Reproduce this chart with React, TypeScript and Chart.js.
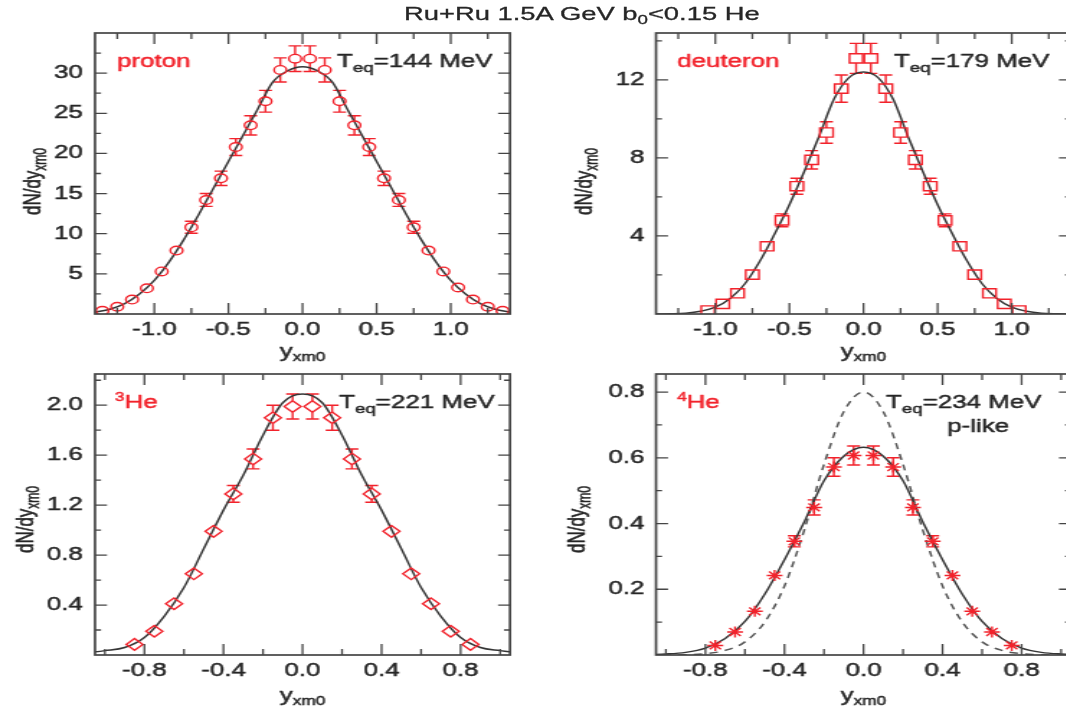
import React, { useEffect, useRef } from 'react';
import { Chart, registerables } from 'chart.js';

Chart.register(...registerables);

// The reference figure is horizontally stretched; draw at 1/S width and stretch.
const S = 1.44;
const FONT = '"Liberation Sans", Arial, Helvetica, sans-serif';
const RED = '#f2222b';
const INK = '#262626';
const FRAME = '#454545';
const CURVE = '#353535';
const CAP = 4.5;
const STROKE = 0.45;

// ---------------- proton ----------------
const protonX = [-1.35, -1.25, -1.15, -1.05, -0.95, -0.85, -0.75, -0.65, -0.55, -0.45, -0.35, -0.25, -0.15, -0.05, 0.05, 0.15, 0.25, 0.35, 0.45, 0.55, 0.65, 0.75, 0.85, 0.95, 1.05, 1.15, 1.25, 1.35];
const protonY = [0.4, 0.9, 1.8, 3.2, 5.3, 7.9, 10.8, 14.2, 16.9, 20.8, 23.5, 26.5, 30.4, 31.8, 31.8, 30.4, 26.5, 23.5, 20.8, 16.9, 14.2, 10.8, 7.9, 5.3, 3.3, 1.8, 0.9, 0.4];
const protonErr = [0.08, 0.1, 0.15, 0.2, 0.25, 0.3, 0.75, 0.8, 0.9, 1.05, 1.2, 1.35, 1.5, 1.6, 1.6, 1.5, 1.35, 1.2, 1.05, 0.9, 0.8, 0.75, 0.3, 0.25, 0.2, 0.15, 0.1, 0.08];
const protonFitX = [-1.4, -1.3, -1.2, -1.1, -1.0, -0.9, -0.8, -0.7, -0.6, -0.5, -0.4, -0.3, -0.2, -0.1, 0, 0.1, 0.2, 0.3, 0.4, 0.5, 0.6, 0.7, 0.8, 0.9, 1.0, 1.1, 1.2, 1.3, 1.4];
const protonFitY = [0.25, 0.6, 1.3, 2.5, 4.2, 6.5, 9.3, 12.4, 15.7, 19.0, 22.3, 25.6, 28.9, 30.3, 30.8, 30.3, 28.9, 25.6, 22.3, 19.0, 15.7, 12.4, 9.3, 6.5, 4.2, 2.5, 1.3, 0.6, 0.25];
const protonXMajor = [-1.0, -0.5, 0, 0.5, 1.0];
const protonXMinor = [-1.25, -0.75, -0.25, 0.25, 0.75, 1.25];
const protonYMajor = [5, 10, 15, 20, 25, 30];
const protonYMinor = [2.5, 7.5, 12.5, 17.5, 22.5, 27.5, 32.5];

// ---------------- deuteron ----------------
const deuteronX = [-1.05, -0.95, -0.85, -0.75, -0.65, -0.55, -0.45, -0.35, -0.25, -0.15, -0.05, 0.05, 0.15, 0.25, 0.35, 0.45, 0.55, 0.65, 0.75, 0.85, 0.95, 1.05];
const deuteronY = [0.18, 0.52, 1.06, 2.02, 3.47, 4.8, 6.55, 7.9, 9.3, 11.55, 13.1, 13.1, 11.55, 9.3, 7.9, 6.55, 4.8, 3.47, 2.02, 1.06, 0.52, 0.18];
const deuteronErr = [0.05, 0.06, 0.08, 0.1, 0.15, 0.33, 0.41, 0.47, 0.55, 0.7, 0.77, 0.77, 0.7, 0.55, 0.47, 0.41, 0.33, 0.15, 0.1, 0.08, 0.06, 0.05];
const deuteronFitX = [-1.4, -1.3, -1.2, -1.1, -1.0, -0.9, -0.8, -0.7, -0.6, -0.5, -0.4, -0.3, -0.2, -0.1, 0, 0.1, 0.2, 0.3, 0.4, 0.5, 0.6, 0.7, 0.8, 0.9, 1.0, 1.1, 1.2, 1.3, 1.4];
const deuteronFitY = [0, 0.01, 0.04, 0.14, 0.35, 0.8, 1.55, 2.7, 4.1, 5.6, 7.3, 9.1, 11.0, 12.1, 12.4, 12.1, 11.0, 9.1, 7.3, 5.6, 4.1, 2.7, 1.55, 0.8, 0.35, 0.14, 0.04, 0.01, 0];
const deuteronXMajor = [-1.0, -0.5, 0, 0.5, 1.0];
const deuteronXMinor = [-1.25, -0.75, -0.25, 0.25, 0.75, 1.25];
const deuteronYMajor = [4, 8, 12];
const deuteronYMinor = [2, 6, 10, 14];

// ---------------- 3He ----------------
const he3X = [-0.85, -0.75, -0.65, -0.55, -0.45, -0.35, -0.25, -0.15, -0.05, 0.05, 0.15, 0.25, 0.35, 0.45, 0.55, 0.65, 0.75, 0.85];
const he3Y = [0.085, 0.19, 0.41, 0.65, 0.99, 1.29, 1.57, 1.9, 1.99, 1.99, 1.9, 1.57, 1.29, 0.99, 0.65, 0.41, 0.19, 0.085];
const he3Err = [0.01, 0.015, 0.02, 0.025, 0.035, 0.067, 0.08, 0.1, 0.1, 0.1, 0.1, 0.08, 0.067, 0.035, 0.025, 0.02, 0.015, 0.01];
const he3FitX = [-1.1, -1.0, -0.9, -0.8, -0.7, -0.6, -0.5, -0.4, -0.3, -0.2, -0.1, 0, 0.1, 0.2, 0.3, 0.4, 0.5, 0.6, 0.7, 0.8, 0.9, 1.0, 1.1];
const he3FitY = [0.015, 0.035, 0.06, 0.14, 0.31, 0.54, 0.85, 1.16, 1.44, 1.76, 2.02, 2.09, 2.02, 1.76, 1.44, 1.16, 0.85, 0.54, 0.31, 0.14, 0.06, 0.035, 0.015];
const he3XMajor = [-0.8, -0.4, 0, 0.4, 0.8];
const he3XMinor = [-1.0, -0.6, -0.2, 0.2, 0.6, 1.0];
const he3YMajor = [0.4, 0.8, 1.2, 1.6, 2.0];
const he3YMinor = [0.2, 0.6, 1.0, 1.4, 1.8, 2.2];

// ---------------- 4He ----------------
const he4X = [-0.75, -0.65, -0.55, -0.45, -0.35, -0.25, -0.15, -0.05, 0.05, 0.15, 0.25, 0.35, 0.45, 0.55, 0.65, 0.75];
const he4Y = [0.029, 0.07, 0.133, 0.242, 0.346, 0.449, 0.572, 0.607, 0.607, 0.572, 0.449, 0.346, 0.242, 0.133, 0.07, 0.029];
const he4Err = [0.004, 0.006, 0.008, 0.012, 0.017, 0.023, 0.028, 0.029, 0.029, 0.028, 0.023, 0.017, 0.012, 0.008, 0.006, 0.004];
const he4FitX = [-1.1, -1.0, -0.9, -0.8, -0.7, -0.6, -0.5, -0.4, -0.3, -0.2, -0.1, 0, 0.1, 0.2, 0.3, 0.4, 0.5, 0.6, 0.7, 0.8, 0.9, 1.0, 1.1];
const he4FitY = [0.001, 0.003, 0.008, 0.021, 0.05, 0.102, 0.185, 0.29, 0.405, 0.53, 0.605, 0.632, 0.605, 0.53, 0.405, 0.29, 0.185, 0.102, 0.05, 0.021, 0.008, 0.003, 0.001];
const he4PlikeY = [0, 0, 0.001, 0.004, 0.014, 0.04, 0.1, 0.21, 0.38, 0.58, 0.74, 0.8, 0.74, 0.58, 0.38, 0.21, 0.1, 0.04, 0.014, 0.004, 0.001, 0, 0];
const he4XMajor = [-0.8, -0.4, 0, 0.4, 0.8];
const he4XMinor = [-1.0, -0.6, -0.2, 0.2, 0.6, 1.0];
const he4YMajor = [0.2, 0.4, 0.6, 0.8];
const he4YMinor = [0.1, 0.3, 0.5, 0.7];

type Part = { t: string; size: number; dy?: number };
type Note = { parts: Part[]; x: number; y: number; color: string; align: 'left' | 'center' };

const teq = (v: string): Part[] => [
  { t: 'T', size: 18 },
  { t: 'eq', size: 13, dy: 5 },
  { t: '=' + v + ' MeV', size: 18 },
];

function drawParts(ctx: CanvasRenderingContext2D, parts: Part[], x: number, y: number, color: string, align: 'left' | 'center') {
  ctx.save();
  ctx.fillStyle = color;
  ctx.strokeStyle = color;
  ctx.lineWidth = STROKE;
  ctx.lineJoin = 'round';
  ctx.textBaseline = 'alphabetic';
  ctx.textAlign = 'left';
  const widths = parts.map((p) => {
    ctx.font = `${p.size}px ${FONT}`;
    return ctx.measureText(p.t).width;
  });
  const total = widths.reduce((a, b) => a + b, 0);
  let cx = align === 'center' ? x - total / 2 : x;
  parts.forEach((p, i) => {
    ctx.font = `${p.size}px ${FONT}`;
    ctx.fillText(p.t, cx, y + (p.dy || 0));
    ctx.strokeText(p.t, cx, y + (p.dy || 0));
    cx += widths[i];
  });
  ctx.restore();
}

interface PanelSpec {
  col: number;
  row: number;
  frame: { l: number; r: number; t: number; b: number };
  xMin: number; xMax: number; yMin: number; yMax: number;
  xMajor: number[]; xMinor: number[]; yMajor: number[]; yMinor: number[];
  xDec: number; yDec: number;
  px: number[]; py: number[]; perr: number[];
  style: string; radius: number; gap: number; minBar: number;
  fitX: number[]; fitY: number[]; dashY?: number[];
  notes: Note[];
  yTitleX: number; yTitleDy: number; xTitleY: number;
  xPad: number; yPad: number;
}

const COLS = [{ left: 0, width: 370 }, { left: 370, width: 400 }];
const ROWS = [{ top: 0, height: 365 }, { top: 345, height: 370 }];

const panels: PanelSpec[] = [
  {
    col: 0, row: 0, frame: { l: 95, r: 510, t: 33, b: 314 },
    xMin: -1.4, xMax: 1.4, yMin: 0, yMax: 35,
    xMajor: protonXMajor, xMinor: protonXMinor, yMajor: protonYMajor, yMinor: protonYMinor, xDec: 1, yDec: 0,
    px: protonX, py: protonY, perr: protonErr, style: 'circle', radius: 4.3, gap: 4.3, minBar: 5,
    fitX: protonFitX, fitY: protonFitY,
    notes: [
      { parts: [{ t: 'proton', size: 18 }], x: 117, y: 67, color: RED, align: 'left' },
      { parts: teq('144'), x: 337, y: 67, color: INK, align: 'left' },
    ],
    yTitleX: 34.5, yTitleDy: 8, xTitleY: 357, xPad: 5.5, yPad: 8.5,
  },
  {
    col: 1, row: 0, frame: { l: 656, r: 1071, t: 33, b: 314 },
    xMin: -1.4, xMax: 1.4, yMin: 0, yMax: 14.4,
    xMajor: deuteronXMajor, xMinor: deuteronXMinor, yMajor: deuteronYMajor, yMinor: deuteronYMinor, xDec: 1, yDec: 0,
    px: deuteronX, py: deuteronY, perr: deuteronErr, style: 'rect', radius: 6.5, gap: 4.6, minBar: 5.8,
    fitX: deuteronFitX, fitY: deuteronFitY,
    notes: [
      { parts: [{ t: 'deuteron', size: 18 }], x: 677, y: 67, color: RED, align: 'left' },
      { parts: teq('179'), x: 894, y: 67, color: INK, align: 'left' },
    ],
    yTitleX: 585, yTitleDy: 8, xTitleY: 357, xPad: 5.5, yPad: 8,
  },
  {
    col: 0, row: 1, frame: { l: 95, r: 510, t: 374, b: 655 },
    xMin: -1.05, xMax: 1.05, yMin: 0, yMax: 2.25,
    xMajor: he3XMajor, xMinor: he3XMinor, yMajor: he3YMajor, yMinor: he3YMinor, xDec: 1, yDec: 1,
    px: he3X, py: he3Y, perr: he3Err, style: 'rectRot', radius: 5.8, gap: 5.8, minBar: 6.5,
    fitX: he3FitX, fitY: he3FitY,
    notes: [
      { parts: [{ t: '3', size: 12, dy: -7 }, { t: 'He', size: 18 }], x: 115, y: 408, color: RED, align: 'left' },
      { parts: teq('221'), x: 339, y: 408, color: INK, align: 'left' },
    ],
    yTitleX: 26, yTitleDy: 5, xTitleY: 701, xPad: 5.5, yPad: 8.5,
  },
  {
    col: 1, row: 1, frame: { l: 656, r: 1071, t: 374, b: 655 },
    xMin: -1.05, xMax: 1.05, yMin: 0, yMax: 0.855,
    xMajor: he4XMajor, xMinor: he4XMinor, yMajor: he4YMajor, yMinor: he4YMinor, xDec: 1, yDec: 1,
    px: he4X, py: he4Y, perr: he4Err, style: 'star', radius: 5.5, gap: 0, minBar: 5,
    fitX: he4FitX, fitY: he4FitY, dashY: he4PlikeY,
    notes: [
      { parts: [{ t: '4', size: 12, dy: -7 }, { t: 'He', size: 18 }], x: 677, y: 408, color: RED, align: 'left' },
      { parts: teq('234'), x: 886, y: 408, color: INK, align: 'left' },
      { parts: [{ t: 'p-like', size: 18 }], x: 978, y: 432, color: INK, align: 'center' },
    ],
    yTitleX: 578, yTitleDy: 5, xTitleY: 701, xPad: 5.5, yPad: 8,
  },
];

const near = (arr: number[], v: number) => arr.some((m) => Math.abs(m - v) < 1e-9);

function makeDecor(spec: PanelSpec, colLeft: number, rowTop: number) {
  const fx = (X: number) => X / S - colLeft;
  const fy = (Y: number) => Y - rowTop;
  return {
    id: 'decor',
    beforeDatasetsDraw(chart: any) {
      const { ctx } = chart;
      const xs = chart.scales.x;
      const ys = chart.scales.y;
      ctx.save();
      ctx.strokeStyle = RED;
      ctx.lineWidth = 1.4;
      spec.px.forEach((xv, i) => {
        const e = spec.perr[i];
        const cx = xs.getPixelForValue(xv);
        const cy = ys.getPixelForValue(spec.py[i]);
        const top = ys.getPixelForValue(spec.py[i] + e);
        const bot = ys.getPixelForValue(spec.py[i] - e);
        if (cy - top < spec.minBar) return;
        ctx.beginPath();
        ctx.moveTo(cx, top);
        ctx.lineTo(cx, cy - spec.gap);
        ctx.moveTo(cx, cy + spec.gap);
        ctx.lineTo(cx, bot);
        ctx.moveTo(cx - CAP, top);
        ctx.lineTo(cx + CAP, top);
        ctx.moveTo(cx - CAP, bot);
        ctx.lineTo(cx + CAP, bot);
        ctx.stroke();
      });
      ctx.restore();
    },
    afterDraw(chart: any) {
      const { ctx } = chart;
      const xs = chart.scales.x;
      const ys = chart.scales.y;
      const { left, right, top, bottom } = chart.chartArea;
      ctx.save();
      ctx.strokeStyle = FRAME;
      ctx.lineWidth = 1.7;
      ctx.strokeRect(left, top, right - left, bottom - top);
      ctx.lineWidth = 1.3;
      ctx.beginPath();
      const xt = (v: number, len: number) => {
        const p = xs.getPixelForValue(v);
        ctx.moveTo(p, bottom);
        ctx.lineTo(p, bottom - len);
        ctx.moveTo(p, top);
        ctx.lineTo(p, top + len);
      };
      const yt = (v: number, len: number) => {
        const p = ys.getPixelForValue(v);
        ctx.moveTo(left, p);
        ctx.lineTo(left + len / S, p);
        ctx.moveTo(right, p);
        ctx.lineTo(right - len / S, p);
      };
      spec.xMajor.forEach((v) => xt(v, 11));
      spec.xMinor.forEach((v) => xt(v, 6));
      spec.yMajor.forEach((v) => yt(v, 12));
      spec.yMinor.forEach((v) => yt(v, 6));
      ctx.stroke();
      ctx.restore();

      spec.notes.forEach((n) => drawParts(ctx, n.parts, fx(n.x), fy(n.y), n.color, n.align));

      drawParts(ctx, [{ t: 'y', size: 18 }, { t: 'xm0', size: 12, dy: 4 }], (left + right) / 2, fy(spec.xTitleY), INK, 'center');

      ctx.save();
      ctx.translate(fx(spec.yTitleX), (top + bottom) / 2 + spec.yTitleDy);
      ctx.rotate(-Math.PI / 2);
      drawParts(ctx, [{ t: 'dN/dy', size: 17 }, { t: 'xm0', size: 12, dy: 4 }], 0, 4.5, INK, 'center');
      ctx.restore();
    },
  };
}

function PanelChart({ spec }: { spec: PanelSpec }) {
  const ref = useRef<HTMLCanvasElement | null>(null);
  const col = COLS[spec.col];
  const row = ROWS[spec.row];
  useEffect(() => {
    if (!ref.current) return;
    const fl = spec.frame.l / S - col.left;
    const fr = spec.frame.r / S - col.left;
    const datasets: any[] = [
      {
        label: 'data',
        data: spec.px.map((x, i) => ({ x, y: spec.py[i] })),
        pointStyle: spec.style,
        pointRadius: spec.radius,
        borderColor: RED,
        backgroundColor: 'rgba(0,0,0,0)',
        pointBorderWidth: 1.4,
        borderWidth: 1.4,
        showLine: false,
      },
      {
        label: 'fit',
        data: spec.fitX.map((x, i) => ({ x, y: spec.fitY[i] })),
        showLine: true,
        pointRadius: 0,
        borderColor: CURVE,
        borderWidth: 1.5,
        cubicInterpolationMode: 'monotone',
        fill: false,
      },
    ];
    if (spec.dashY) {
      datasets.push({
        label: 'p-like',
        data: spec.fitX.map((x, i) => ({ x, y: spec.dashY![i] })),
        showLine: true,
        pointRadius: 0,
        borderColor: '#555555',
        borderWidth: 1.5,
        borderDash: [6, 5],
        cubicInterpolationMode: 'monotone',
        fill: false,
      });
    }
    const tickFont = { family: FONT, size: 18 };
    const chart = new Chart(ref.current, {
      type: 'scatter',
      data: { datasets },
      plugins: [makeDecor(spec, col.left, row.top)],
      options: {
        animation: false,
        responsive: true,
        maintainAspectRatio: false,
        events: [],
        layout: { padding: { left: 0, right: col.width - fr, top: spec.frame.t - row.top, bottom: 0 } },
        plugins: { legend: { display: false }, title: { display: false }, tooltip: { enabled: false } },
        scales: {
          x: {
            type: 'linear',
            min: spec.xMin,
            max: spec.xMax,
            grid: { display: false, drawTicks: false },
            border: { display: false },
            afterFit: (s: any) => { s.height = row.top + row.height - spec.frame.b; },
            afterBuildTicks: (s: any) => {
              s.ticks = [...spec.xMajor, ...spec.xMinor].sort((a, b) => a - b).map((v) => ({ value: v }));
            },
            ticks: {
              autoSkip: false,
              maxRotation: 0,
              minRotation: 0,
              padding: spec.xPad,
              color: INK,
              textStrokeColor: INK,
              textStrokeWidth: STROKE,
              font: tickFont,
              callback: (v: any) => (near(spec.xMajor, Number(v)) ? Number(v).toFixed(spec.xDec) : ''),
            },
          },
          y: {
            type: 'linear',
            min: spec.yMin,
            max: spec.yMax,
            grid: { display: false, drawTicks: false },
            border: { display: false },
            afterFit: (s: any) => { s.width = fl; },
            afterBuildTicks: (s: any) => {
              s.ticks = [...spec.yMajor, ...spec.yMinor].sort((a, b) => a - b).map((v) => ({ value: v }));
            },
            ticks: {
              autoSkip: false,
              padding: spec.yPad,
              color: INK,
              textStrokeColor: INK,
              textStrokeWidth: STROKE,
              font: tickFont,
              callback: (v: any) => (near(spec.yMajor, Number(v)) ? Number(v).toFixed(spec.yDec) : ''),
            },
          },
        },
      } as any,
    });
    return () => chart.destroy();
  }, []);
  return (
    <div style={{ position: 'absolute', left: col.left, top: row.top, width: col.width, height: row.height }}>
      <canvas ref={ref} />
    </div>
  );
}

export default function App() {
  return (
    <div style={{ position: 'absolute', left: 0, top: 0, width: 1066, height: 715, overflow: 'hidden', background: '#ffffff' }}>
      <div style={{ position: 'absolute', left: 0, top: 0, width: 770, height: 715, transform: `scaleX(${S})`, transformOrigin: '0 0' }}>
        <div
          style={{
            position: 'absolute',
            left: 404 / S,
            top: 4,
            fontFamily: FONT,
            fontSize: 19,
            lineHeight: '20px',
            color: INK,
            whiteSpace: 'nowrap',
            WebkitTextStroke: '0.3px #262626',
          }}
        >
          Ru+Ru 1.5A GeV b<span style={{ fontSize: 13, position: 'relative', top: 4 }}>0</span>
          {'<0.15 He'}
        </div>
        {panels.map((p, i) => (
          <PanelChart key={i} spec={p} />
        ))}
      </div>
    </div>
  );
}
